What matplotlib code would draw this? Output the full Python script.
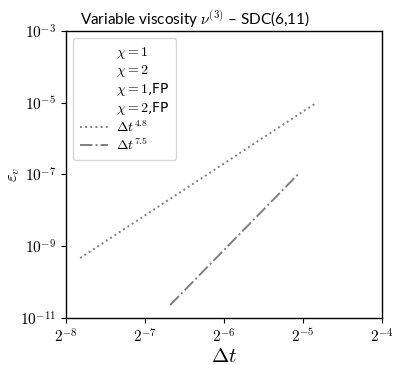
import matplotlib
matplotlib.use("Agg")
import matplotlib.pyplot as plt
import matplotlib.ticker as ticker

plt.rcParams['mathtext.fontset'] = 'cm'
plt.rcParams['font.family'] = 'DejaVu Sans'

# reference slope lines (endpoints)
dt_ref48 = [2**-7.82, 2**-4.85]
err_ref48 = [10**-9.33, 10**-5.03]
dt_ref75 = [2**-6.68, 2**-5.05]
err_ref75 = [10**-10.64, 10**-6.97]

series_labels = [r'$\chi=1$', r'$\chi=2$', r'$\chi=1$,FP', r'$\chi=2$,FP']

xticks = [2**-8, 2**-7, 2**-6, 2**-5, 2**-4]
xticklabels = [r'$2^{-8}$', r'$2^{-7}$', r'$2^{-6}$', r'$2^{-5}$', r'$2^{-4}$']
yticks = [1e-11, 1e-9, 1e-7, 1e-5, 1e-3]
yticklabels = [r'$10^{-11}$', r'$10^{-9}$', r'$10^{-7}$', r'$10^{-5}$', r'$10^{-3}$']

fig = plt.figure(figsize=(3.97, 3.65), dpi=100)
ax = fig.add_axes([0.166, 0.129, 0.796, 0.786])

# the solver series have no data in this plot, only legend entries
for lab in series_labels:
    ax.plot([], [], linestyle='none', label=lab)

ax.plot(dt_ref48, err_ref48, ':', color='gray', lw=1.4, label=r'$\Delta t^{4.8}$')
ax.plot(dt_ref75, err_ref75, '-.', color='gray', lw=1.4, label=r'$\Delta t^{7.5}$')

ax.set_xscale('log', base=2)
ax.set_yscale('log')
ax.set_xlim(2**-8, 2**-4)
ax.set_ylim(1e-11, 1e-3)
ax.set_xticks(xticks)
ax.set_xticklabels(xticklabels, fontsize=11)
ax.set_yticks(yticks)
ax.set_yticklabels(yticklabels, fontsize=11)
ax.xaxis.set_minor_locator(ticker.NullLocator())
ax.yaxis.set_minor_locator(ticker.NullLocator())

for sp in ax.spines.values():
    sp.set_linewidth(1.0)

ax.set_xlabel(r'$\Delta t$', fontsize=15, labelpad=0)
ax.set_ylabel(r'$\varepsilon_v$', fontsize=12)
ax.yaxis.set_label_coords(-0.14, 0.5)
fig.text(0.49, 0.948, r'Variable viscosity $\nu^{(3)}$ – SDC(6,11)',
         fontsize=11, family='Lato', ha='center', va='center')

ax.legend(loc='upper left', fontsize=10, handlelength=2.0, borderpad=0.5,
          labelspacing=0.15, handletextpad=0.6)

fig.savefig('out.png', dpi=100)
